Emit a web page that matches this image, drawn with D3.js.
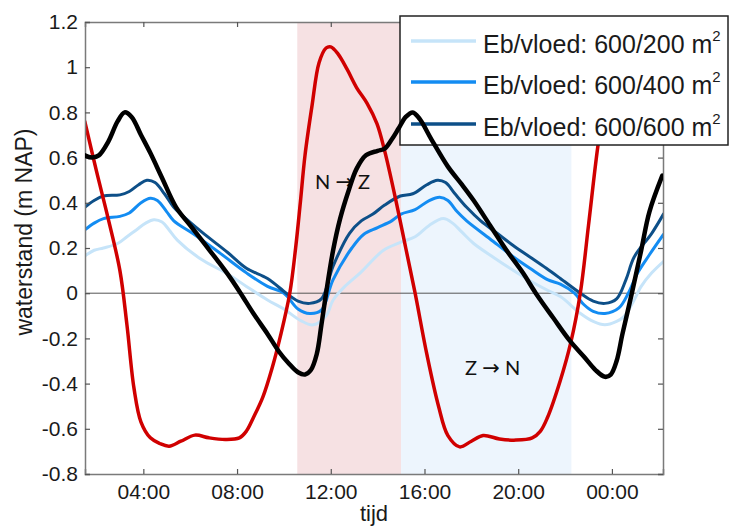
<!DOCTYPE html>
<html><head><meta charset="utf-8">
<script src="https://cdn.jsdelivr.net/npm/d3@7"></script>
<style>body{margin:0;background:#fff} svg{display:block}</style>
</head><body>
<svg id="chart" width="730" height="528"></svg>
<script>
// ---- data (time in hours, water level in m NAP) ----
const xTicks = [4, 8, 12, 16, 20, 24];
const yTicks = [-0.8, -0.6, -0.4, -0.2, 0, 0.2, 0.4, 0.6, 0.8, 1, 1.2];
const legendLabels = ["Eb/vloed: 600/200 m", "Eb/vloed: 600/400 m", "Eb/vloed: 600/600 m"];
const shadeNZ = [10.57, 15.0];
const shadeZN = [15.0, 22.27];

const redT = [1.5,2.0,2.5,3.0,3.3,3.6,3.9,4.3,4.7,5.1,5.6,6.2,6.8,7.5,8.1,8.4,8.7,9.1,9.5,9.85,10.25,10.5,10.7,10.9,11.2,11.5,11.8,12.0,12.3,12.7,13.1,13.55,13.97,14.3,14.76,15.2,15.6,16.1,16.6,17.0,17.5,18.0,18.5,19.2,19.9,20.6,20.95,21.25,21.8,22.24,22.65,23.0,23.4,23.8,24.2,24.5,24.9,25.4,25.8,26.2];
const redV = [0.76,0.54,0.33,0.10,-0.14,-0.42,-0.57,-0.64,-0.665,-0.677,-0.655,-0.628,-0.64,-0.647,-0.64,-0.61,-0.55,-0.46,-0.33,-0.19,0.0,0.2,0.40,0.61,0.83,1.02,1.085,1.09,1.06,0.99,0.91,0.84,0.75,0.63,0.42,0.20,0.0,-0.27,-0.50,-0.63,-0.68,-0.655,-0.63,-0.645,-0.65,-0.64,-0.61,-0.55,-0.385,-0.22,0.0,0.30,0.65,0.92,1.07,1.09,1.05,0.97,0.89,0.81];

const blackT = [1.5,1.8,2.1,2.5,2.9,3.2,3.5,3.9,4.3,4.8,5.4,6.0,6.6,7.2,7.7,8.15,8.7,9.3,9.8,10.2,10.6,10.9,11.15,11.4,11.6,11.8,12.1,12.4,12.75,13.1,13.5,14.0,14.3,14.6,14.9,15.2,15.5,15.8,16.3,17.0,17.6,18.1,18.8,19.5,20.2,20.75,21.5,22.2,22.8,23.3,23.7,23.95,24.2,24.45,24.85,25.25,25.6,26.15];
const blackV = [0.61,0.60,0.61,0.67,0.76,0.80,0.78,0.70,0.62,0.51,0.38,0.30,0.22,0.14,0.07,0.0,-0.09,-0.18,-0.26,-0.31,-0.35,-0.36,-0.34,-0.27,-0.14,0.0,0.19,0.33,0.45,0.55,0.61,0.63,0.64,0.68,0.73,0.78,0.80,0.77,0.68,0.56,0.48,0.41,0.30,0.19,0.09,0.0,-0.11,-0.21,-0.28,-0.34,-0.37,-0.36,-0.30,-0.18,0.0,0.19,0.36,0.52];

const darkT = [1.5,1.9,2.3,3.0,3.4,3.8,4.15,4.5,4.9,5.3,5.6,6.5,7.6,8.4,9.3,10.1,10.6,11.1,11.6,12.1,12.8,13.3,13.8,14.3,14.97,15.5,16.1,16.55,16.9,17.3,17.8,18.4,19.1,19.8,20.5,21.2,21.8,22.65,23.2,23.7,24.2,24.6,24.95,25.7,26.2];
const darkV = [0.38,0.41,0.43,0.435,0.45,0.48,0.50,0.49,0.44,0.38,0.35,0.27,0.18,0.11,0.065,0.0,-0.035,-0.045,-0.025,0.12,0.265,0.32,0.35,0.39,0.43,0.44,0.48,0.50,0.49,0.44,0.38,0.32,0.265,0.21,0.16,0.11,0.065,0.0,-0.035,-0.045,-0.025,0.06,0.16,0.265,0.35];

const midT = [1.5,1.9,2.3,3.0,3.4,3.9,4.3,4.6,5.0,5.3,6.1,7.3,8.4,9.3,10.0,10.6,11.1,11.6,12.1,12.9,13.4,14.0,14.6,15.0,15.6,16.2,16.65,17.0,17.4,17.8,18.8,19.8,20.5,21.25,21.8,22.4,22.8,23.2,23.7,24.3,24.7,25.1,25.6,26.2];
const midV = [0.28,0.31,0.33,0.34,0.355,0.40,0.42,0.41,0.36,0.32,0.265,0.175,0.09,0.03,0.0,-0.07,-0.09,-0.075,0.06,0.20,0.26,0.29,0.32,0.35,0.37,0.41,0.425,0.41,0.36,0.32,0.24,0.16,0.11,0.06,0.04,0.0,-0.05,-0.08,-0.09,-0.065,0.0,0.09,0.17,0.26];

const lightT = [1.5,1.9,2.3,2.9,3.3,3.7,4.1,4.45,4.8,5.1,5.45,6.4,7.6,8.4,9.3,10.0,10.7,11.25,11.8,12.1,12.6,13.26,14.25,14.97,15.6,16.2,16.8,17.2,17.6,18.1,19.0,19.8,20.5,21.25,21.8,22.66,23.2,23.7,24.2,24.5,24.9,25.25,25.7,26.2];
const lightV = [0.165,0.19,0.20,0.22,0.25,0.28,0.31,0.325,0.315,0.28,0.235,0.155,0.085,0.03,-0.03,-0.07,-0.12,-0.14,-0.10,-0.03,0.03,0.09,0.19,0.225,0.25,0.30,0.33,0.31,0.27,0.22,0.155,0.10,0.055,0.013,-0.015,-0.09,-0.125,-0.14,-0.125,-0.105,-0.04,0.03,0.09,0.14];

// ---- layout ----
const svg = d3.select("#chart");
const X0 = 85, X1 = 663, Y0 = 22, Y1 = 474;
const x = d3.scaleLinear().domain([1.51, 26.18]).range([X0, X1]);
const y = d3.scaleLinear().domain([-0.8, 1.2]).range([Y1, Y0]);
const FONT = "'Liberation Sans', Arial, sans-serif";

svg.append("defs").append("clipPath").attr("id", "clip")
  .append("rect").attr("x", X0).attr("y", Y0).attr("width", X1 - X0).attr("height", Y1 - Y0);

const plot = svg.append("g").attr("clip-path", "url(#clip)");

// shaded periods
plot.append("rect").attr("x", x(shadeNZ[0])).attr("y", Y0)
  .attr("width", x(shadeNZ[1]) - x(shadeNZ[0])).attr("height", Y1 - Y0).attr("fill", "#f6e1e3");
plot.append("rect").attr("x", x(shadeZN[0])).attr("y", Y0)
  .attr("width", x(shadeZN[1]) - x(shadeZN[0])).attr("height", Y1 - Y0).attr("fill", "#edf5fd");

// zero line
plot.append("line").attr("x1", X0).attr("x2", X1).attr("y1", y(0)).attr("y2", y(0))
  .attr("stroke", "#555").attr("stroke-width", 1);

// annotations
const ANN = "Lato, 'Open Sans', sans-serif";
function annot(xp, yp, a, b) {
  const t = svg.append("text").attr("x", xp).attr("y", yp).attr("font-family", ANN)
    .attr("font-size", 20).attr("fill", "#111");
  t.append("tspan").text(a + " ");
  t.append("tspan").attr("font-family", "'DejaVu Sans', sans-serif").attr("font-size", 21).text("\u2192");
  t.append("tspan").text(" " + b);
}
annot(315, 189, "N", "Z");
annot(465, 375, "Z", "N");

const line = d3.line().x(d => x(d[0])).y(d => y(d[1])).curve(d3.curveCatmullRom.alpha(0.5));
const zip = (t, v) => t.map((d, i) => [d, v[i]]);

const series = [
  {t: lightT, v: lightV, c: "#c6e4f9", w: 3},
  {t: midT, v: midV, c: "#138cf2", w: 3},
  {t: darkT, v: darkV, c: "#0d4f88", w: 3},
  {t: redT, v: redV, c: "#d00000", w: 3.5},
  {t: blackT, v: blackV, c: "#000000", w: 4.5}
];
const linesLayer = svg.append("g").attr("clip-path", "url(#clip)");
function drawSeries(g, s) {
  g.append("path").datum(zip(s.t, s.v)).attr("d", line)
    .attr("fill", "none").attr("stroke", s.c).attr("stroke-width", s.w)
    .attr("stroke-linejoin", "round").attr("stroke-linecap", "round");
}
series.slice(0, 4).forEach(s => drawSeries(linesLayer, s));

// axes
const fmtX = d => String(d % 24).padStart(2, "0") + ":00";
const fmtY = d => String(+d.toFixed(1));
const gB = svg.append("g").attr("transform", `translate(0,${Y1})`)
  .call(d3.axisBottom(x).tickValues(xTicks).tickSize(-5).tickPadding(10).tickFormat(fmtX));
const gT = svg.append("g").attr("transform", `translate(0,${Y0})`)
  .call(d3.axisTop(x).tickValues(xTicks).tickSize(-5).tickFormat(""));
const gL = svg.append("g").attr("transform", `translate(${X0},0)`)
  .call(d3.axisLeft(y).tickValues(yTicks).tickSize(-5).tickPadding(7).tickFormat(fmtY));
const gR = svg.append("g").attr("transform", `translate(${X1},0)`)
  .call(d3.axisRight(y).tickValues(yTicks).tickSize(-5).tickFormat(""));
[gB, gT, gL, gR].forEach(g => {
  g.select(".domain").attr("stroke", "#7a7a7a").attr("stroke-width", 1.5);
  g.selectAll(".tick line").attr("stroke", "#555").attr("stroke-width", 1.2);
  g.selectAll("text").attr("font-family", FONT).attr("font-size", 21).attr("fill", "#1a1a1a");
});

// axis titles
svg.append("text").attr("transform", "translate(32,232) rotate(-90)")
  .attr("text-anchor", "middle").attr("font-family", FONT).attr("font-size", 23)
  .attr("fill", "#1a1a1a").text("waterstand (m NAP)");
svg.append("text").attr("x", (X0 + X1) / 2).attr("y", 521).attr("text-anchor", "middle")
  .attr("font-family", FONT).attr("font-size", 22).attr("fill", "#1a1a1a").text("tijd");

// legend
const leg = svg.append("g");
leg.append("rect").attr("x", 400).attr("y", 16).attr("width", 328).attr("height", 129)
  .attr("fill", "#fff").attr("stroke", "#222").attr("stroke-width", 1.5);
const legColors = [series[0].c, series[1].c, series[2].c];
const legY = [41, 82, 124];
legendLabels.forEach((lab, i) => {
  leg.append("line").attr("x1", 411).attr("x2", 476).attr("y1", legY[i]).attr("y2", legY[i])
    .attr("stroke", legColors[i]).attr("stroke-width", 3.5);
  const t = leg.append("text").attr("x", 483).attr("y", legY[i] + 12)
    .attr("font-family", FONT).attr("font-size", 25).attr("fill", "#1a1a1a");
  t.append("tspan").text(lab);
  t.append("tspan").attr("font-size", 15).attr("dy", -12).text("2");
});

// black line drawn on top of the legend, as in the reference
const blackLayer = svg.append("g").attr("clip-path", "url(#clip)");
drawSeries(blackLayer, series[4]);
</script>
</body></html>
